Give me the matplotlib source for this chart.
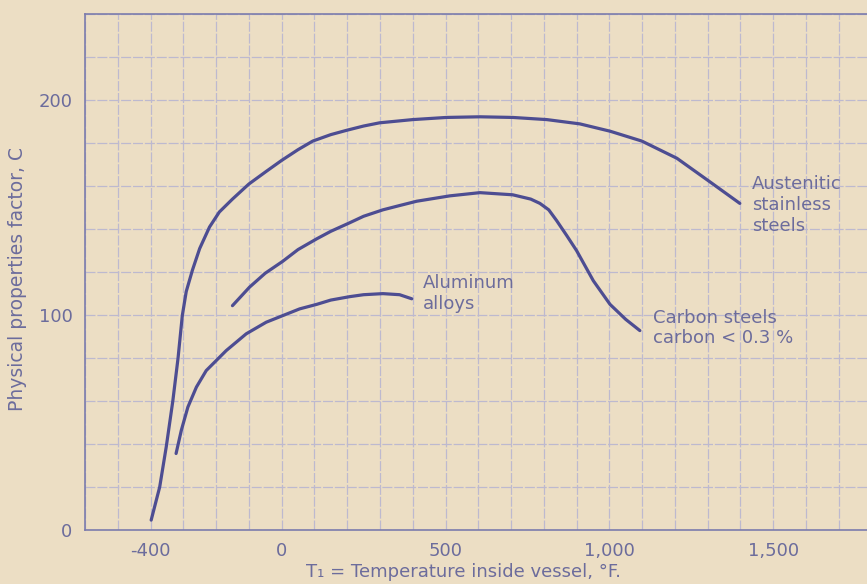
import matplotlib.pyplot as plt
from matplotlib.ticker import MultipleLocator, FixedLocator

# curves (temperature F, factor C)
aus_t = [-398, -372, -352, -332, -316, -303, -291, -272, -250, -220, -190, -150, -100, -46, 0, 50,
         95, 150, 198, 250, 299, 400, 503, 605, 705, 809, 910, 1002, 1099, 1206, 1307, 1398]
aus_c = [4.6, 20, 38.7, 60, 80, 99.8, 111, 121, 131, 141, 148, 154, 161, 167, 172, 177,
         181, 184, 186, 188, 189.5, 191, 192, 192.3, 192, 191, 189, 185.6, 181, 173, 162, 152]

carb_t = [-150, -98, -50, 3, 50, 107, 150, 208, 250, 309, 360, 412, 513, 605, 705, 760,
          788, 815, 839, 870, 900, 951, 1002, 1050, 1093]
carb_c = [104.4, 113, 119.5, 125, 130.5, 135.5, 139, 143, 146, 149, 151, 153, 155.5, 157, 156, 154,
          152, 149, 144, 137, 130, 116, 105, 98, 92.8]

alu_t = [-322, -306, -286, -260, -230, -169, -108, -47, 4, 55, 107, 150, 208, 250, 309, 360, 397]
alu_c = [35.6, 46.4, 57.2, 66.5, 74.2, 83.5, 91.3, 96.7, 99.8, 102.9, 105, 107, 108.6, 109.5, 110, 109.5, 107.6]

x_ticks = [-400, 0, 500, 1000, 1500]
x_labels = ["-400", "0", "500", "1,000", "1,500"]
y_ticks = [0, 100, 200]

bg = "#ecdec4"
ink = "#4d4d92"
txt = "#6c6c9c"
grid_c = "#bdb9cf"

fig = plt.figure(figsize=(8.67, 5.84), dpi=100, facecolor=bg)
ax = fig.add_axes([0.098, 0.0925, 0.902, 0.883])
ax.set_facecolor(bg)

for t, c in [(aus_t, aus_c), (carb_t, carb_c), (alu_t, alu_c)]:
    ax.plot(t, c, color=ink, lw=2.3, solid_capstyle="round")

ax.set_xlim(-600, 1786)
ax.set_ylim(0, 240)

ax.xaxis.set_major_locator(FixedLocator(x_ticks))
ax.set_xticklabels(x_labels)
ax.yaxis.set_major_locator(FixedLocator(y_ticks))
ax.xaxis.set_minor_locator(MultipleLocator(100))
ax.yaxis.set_minor_locator(MultipleLocator(20))
ax.grid(True, which="both", color=grid_c, lw=0.9, ls=(0, (8, 1.5)))
ax.set_axisbelow(True)
ax.tick_params(which="both", length=0)
ax.tick_params(axis="x", pad=9, labelsize=13, labelcolor=txt)
ax.tick_params(axis="y", pad=9, labelsize=13, labelcolor=txt)

for s in ["left", "bottom", "top"]:
    ax.spines[s].set_color("#7c7cac")
    ax.spines[s].set_linewidth(1.2)
ax.spines["right"].set_visible(False)

ax.set_ylabel("Physical properties factor, C", color=txt, fontsize=13.5)
ax.yaxis.set_label_coords(-0.074, 0.486)
fig.text(463 / 867, 1 - 572 / 584, "T\u2081 = Temperature inside vessel, \u00b0F.",
         color=txt, fontsize=13, ha="center", va="center")

lab = dict(color=txt, fontsize=13, ha="left", va="top", linespacing=1.2)
ax.text(1435, 165, "Austenitic\nstainless\nsteels", **lab)
ax.text(1133, 103, "Carbon steels\ncarbon < 0.3 %", **lab)
ax.text(432, 119, "Aluminum\nalloys", **lab)

fig.savefig("out.png", dpi=100, facecolor=bg)
